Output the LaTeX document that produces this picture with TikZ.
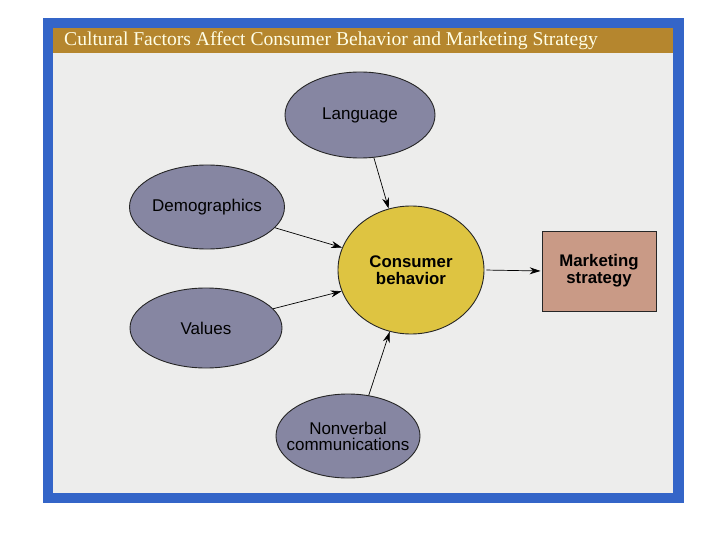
\documentclass[tikz,border=0pt]{standalone}
\usepackage{fontspec}
\setmainfont{Liberation Serif}
\setsansfont{Liberation Sans}
\usetikzlibrary{shapes.geometric,arrows.meta}
\definecolor{frameblue}{HTML}{3465C8}
\definecolor{panel}{HTML}{EDEDEC}
\definecolor{banner}{HTML}{B5862E}
\definecolor{factor}{HTML}{8686A2}
\definecolor{core}{HTML}{DEC441}
\definecolor{strat}{HTML}{C99A86}
\tikzset{
  factor/.style={ellipse,draw=black!85,line width=0.9pt,fill=factor,
    font=\sffamily\fontsize{17}{16}\selectfont,align=center,inner sep=0pt},
  corenode/.style={ellipse,draw=black!85,line width=0.9pt,fill=core,
    font=\sffamily\bfseries\fontsize{16.8}{17}\selectfont,align=center,inner sep=0pt},
  stratbox/.style={rectangle,draw=black!85,line width=0.9pt,fill=strat,
    font=\sffamily\bfseries\fontsize{16.8}{17}\selectfont,align=center,inner sep=0pt},
  link/.style={-{Stealth[length=11pt,width=7pt]},line width=0.7pt,black}
}
\begin{document}
\begin{tikzpicture}[x=1pt,y=-1pt]
\useasboundingbox (0,0) rectangle (720,540);
\fill[white] (0,0) rectangle (720,540);
\fill[frameblue] (43,18) rectangle (684,503);
\fill[panel] (53,28) rectangle (673,493);
\fill[banner] (53,28) rectangle (673,53);
\node[anchor=west,text=white!90!yellow,font=\fontsize{19.6}{20}\selectfont,inner sep=0pt] (title) at (64,41) {Cultural Factors Affect Consumer Behavior and Marketing Strategy};
\node[factor,minimum width=150pt,minimum height=86pt] (lang) at (360,115) {Language};
\node[factor,minimum width=154pt,minimum height=84pt] (demo) at (207,207) {Demographics};
\node[factor,minimum width=152pt,minimum height=80pt] (val) at (206,328) {Values};
\node[factor,minimum width=144pt,minimum height=84pt,inner xsep=-14pt] (nonv) at (348,436) {Nonverbal\\communications};
\node[corenode,minimum width=146pt,minimum height=128pt] (cb) at (411,270) {Consumer\\behavior};
\node[stratbox,minimum width=114pt,minimum height=80pt] (ms) at (599,271) {Marketing\\strategy};
\draw[link] (lang.288) -- (cb.110);
\draw[link] (demo.-17) -- (cb.162);
\draw[link] (val.16) -- (cb.197);
\draw[link] (nonv.63) -- (cb.251);
\draw[link,shorten <=2pt,shorten >=1pt] (cb.east) -- (ms.west);
\end{tikzpicture}
\end{document}
